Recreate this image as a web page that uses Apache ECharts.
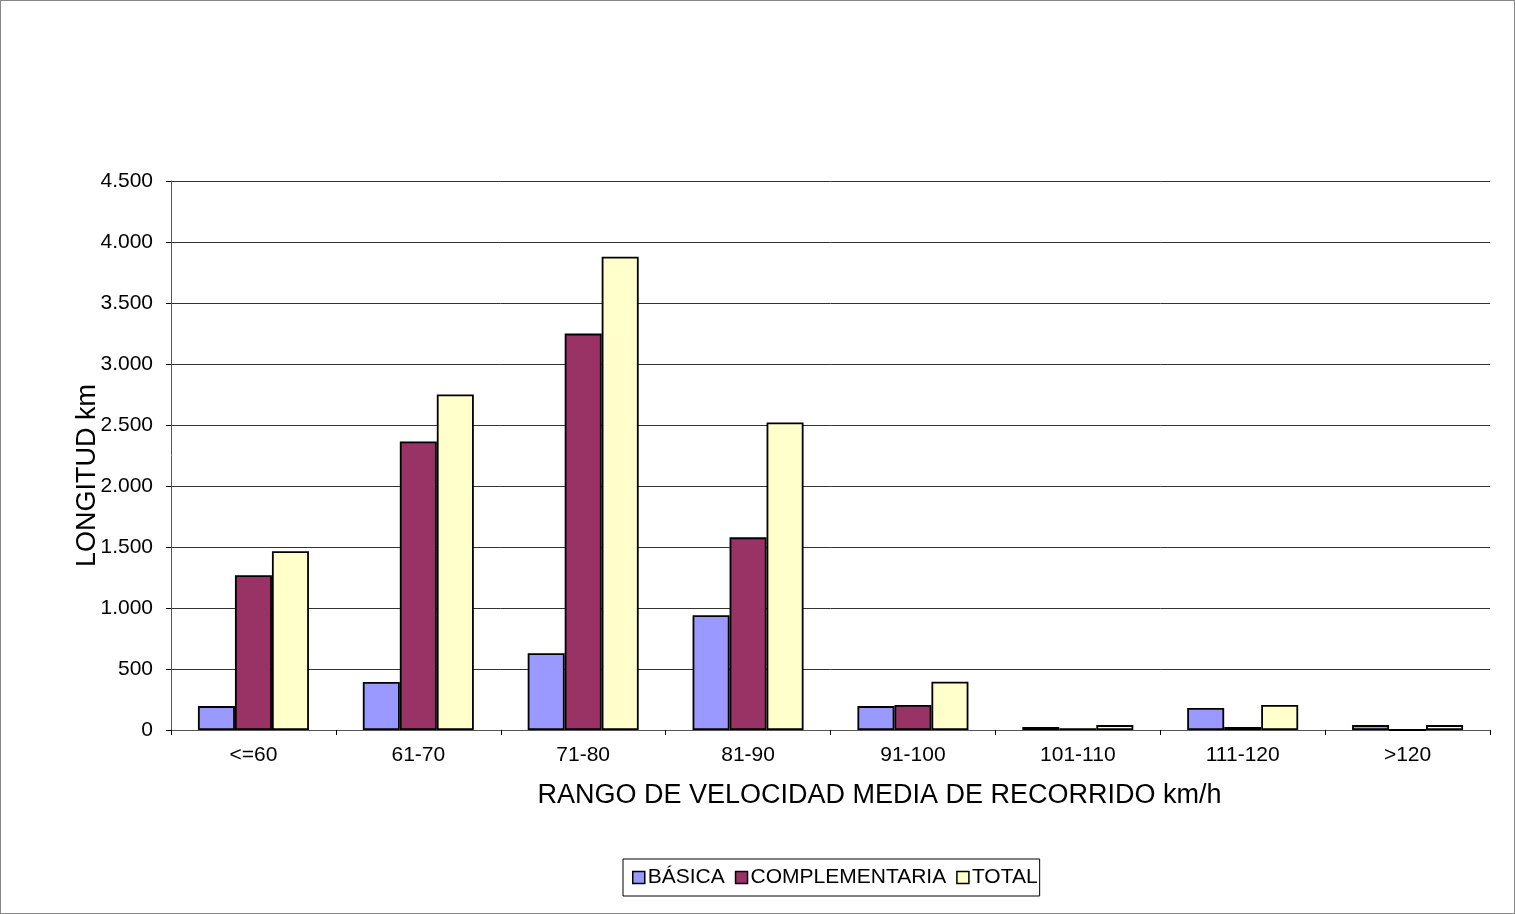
<!DOCTYPE html>
<html><head><meta charset="utf-8">
<script src="https://cdn.jsdelivr.net/npm/echarts@6/dist/echarts.min.js"></script>
<style>html,body{margin:0;padding:0;background:#fff}#c{width:1515px;height:914px;box-sizing:border-box;border:1px solid #888}</style>
</head><body><div id="c"></div>
<script>
const categories = ['<=60','61-70','71-80','81-90','91-100','101-110','111-120','>120'];
const basica = [196, 393, 630, 941, 196, 25, 180, 40];
const complementaria = [1268, 2365, 3249, 1579, 205, 15, 25, 0];
const total = [1465, 2750, 3879, 2520, 395, 40, 205, 40];
const yTicks = {min:0, max:4500, interval:500};

const chart = echarts.init(document.getElementById('c'), null, {renderer:'canvas'});
const font = 'Liberation Sans, Arial, sans-serif';
function bar(name, data, color){
  return {name, type:'bar', data, barGap:'0%', barWidth:37,
    itemStyle:{color, borderColor:'#000', borderWidth:1.8}};
}
chart.setOption({
  animation:false,
  textStyle:{fontFamily:font},
  grid:{left:170, right:24, top:180, bottom:183, containLabel:false},
  legend:{top:858, left:622, itemWidth:12, itemHeight:12, itemGap:10,
    icon:'rect', borderColor:'#000', borderWidth:1, padding:[8,2,8,9],
    textStyle:{fontSize:21, color:'#000', fontFamily:font, padding:[2,0,0,-2]},
    itemStyle:{borderColor:'#000', borderWidth:1.5},
    data:['BÁSICA','COMPLEMENTARIA','TOTAL']},
  xAxis:{type:'category', data:categories,
    name:'RANGO DE VELOCIDAD MEDIA DE RECORRIDO km/h', nameLocation:'middle', nameGap:52,
    nameTextStyle:{fontSize:27, color:'#000', fontFamily:font, padding:[0,0,0,98]},
    axisLine:{lineStyle:{color:'#555', width:1}},
    axisTick:{show:true, length:5, lineStyle:{color:'#000'}},
    axisLabel:{fontSize:21, color:'#000', margin:15}},
  yAxis:{type:'value', min:yTicks.min, max:yTicks.max, interval:yTicks.interval,
    name:'LONGITUD km', nameLocation:'middle', nameGap:70, nameRotate:90, nameMoveOverlap:false,
    nameTextStyle:{fontSize:27, color:'#000', fontFamily:font, padding:[0,40,0,0]},
    axisLine:{show:true, lineStyle:{color:'#555', width:1}},
    axisTick:{show:true, length:5, lineStyle:{color:'#000'}},
    splitLine:{lineStyle:{color:'#333', width:1}},
    axisLabel:{fontSize:21, color:'#000', margin:18,
      formatter:v=>v.toLocaleString('de-DE')}},
  series:[bar('BÁSICA',basica,'#9999FF'), bar('COMPLEMENTARIA',complementaria,'#993366'), bar('TOTAL',total,'#FFFFCC')]
});
</script></body></html>
